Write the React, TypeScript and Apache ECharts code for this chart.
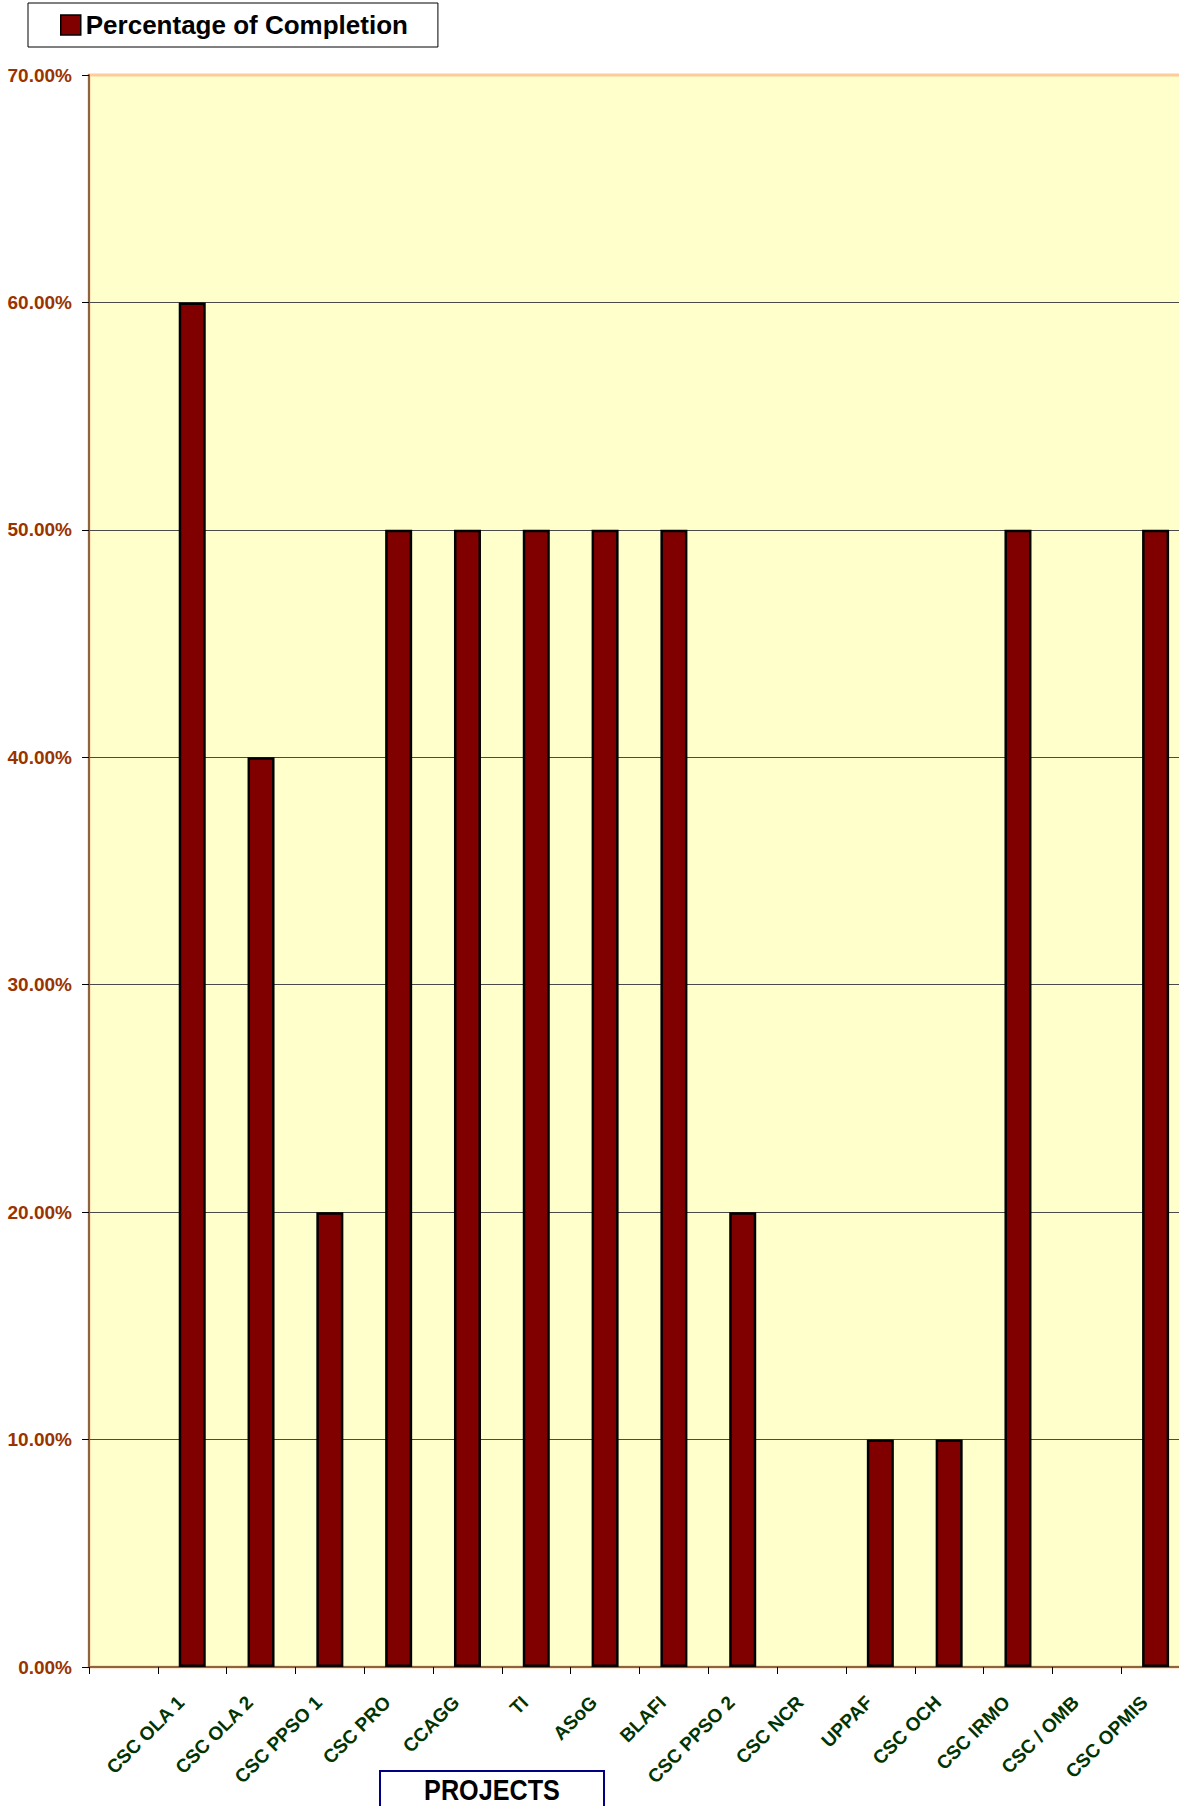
import React, { useEffect, useRef } from "react";
import * as echarts from "echarts";

const categories: string[] = [
  "",
  "CSC OLA 1",
  "CSC OLA 2",
  "CSC PPSO 1",
  "CSC PRO",
  "CCAGG",
  "TI",
  "ASoG",
  "BLAFI",
  "CSC PPSO 2",
  "CSC NCR",
  "UPPAF",
  "CSC OCH",
  "CSC IRMO",
  "CSC / OMB",
  "CSC OPMIS",
];

const completion: (number | null)[] = [
  null, 60, 40, 20, 50, 50, 50, 50, 50, 20, 0, 10, 10, 50, 0, 50,
];

const yTicks = { min: 0, max: 70, interval: 10 };

const seriesName = "Percentage of Completion";
const axisTitle = "PROJECTS";

const FONT = "'Liberation Sans Narrow', 'Arial Narrow', 'Liberation Sans', Arial, sans-serif";

export default function App() {
  const ref = useRef<HTMLDivElement>(null);

  useEffect(() => {
    if (!ref.current) return;
    const chart = echarts.init(ref.current, undefined, { renderer: "svg" });
    const tickCount = (yTicks.max - yTicks.min) / yTicks.interval + 1;
    const splitColors = Array.from({ length: tickCount }, (_, i) =>
      i === tickCount - 1 ? "#FFCC99" : "#4a4a4a"
    );
    chart.setOption({
      animation: false,
      backgroundColor: "#ffffff",
      textStyle: { fontFamily: FONT },
      legend: {
        show: true,
        left: 28,
        top: 3,
        orient: "horizontal",
        backgroundColor: "#ffffff",
        borderColor: "#000000",
        borderWidth: 1,
        padding: [9, 30, 9, 32],
        itemWidth: 20,
        itemHeight: 20,
        icon: "rect",
        itemStyle: { borderColor: "#000", borderWidth: 1.5 },
        textStyle: {
          fontFamily: FONT,
          fontWeight: "bold",
          fontSize: 26,
          lineHeight: 24,
          color: "#000000",
        },
        data: [seriesName],
      },
      grid: {
        left: 89,
        top: 75,
        width: 1101,
        bottom: 139,
        show: true,
        backgroundColor: "#FFFFCC",
        borderColor: "#FFCC99",
        borderWidth: 3,
        containLabel: false,
        outerBoundsMode: "none",
      },
      xAxis: {
        type: "category",
        data: categories,
        boundaryGap: true,
        axisLine: { show: true, lineStyle: { color: "#8C6440", width: 2 } },
        axisTick: {
          show: true,
          alignWithLabel: false,
          interval: 0,
          length: 7,
          lineStyle: { color: "#000", width: 1 },
        },
        axisLabel: {
          interval: 0,
          rotate: 45,
          margin: 21,
          padding: [0, 16, 0, 0],
          color: "#003300",
          fontFamily: FONT,
          fontWeight: "bold",
          fontSize: 19,
        },
        splitLine: { show: false },
      },
      yAxis: {
        type: "value",
        min: yTicks.min,
        max: yTicks.max,
        interval: yTicks.interval,
        axisLine: { show: true, lineStyle: { color: "#8C6440", width: 2 } },
        axisTick: { show: true, length: 7, lineStyle: { color: "#000", width: 1 } },
        axisLabel: {
          margin: 17,
          color: "#993300",
          fontFamily: FONT,
          fontWeight: "bold",
          fontSize: 19,
          formatter: (v: number) => v.toFixed(2) + "%",
        },
        splitLine: { show: true, lineStyle: { color: splitColors, width: 1 } },
      },
      series: [
        {
          name: seriesName,
          type: "bar",
          barWidth: 27,
          itemStyle: { color: "#800000", borderColor: "#000000", borderWidth: 2.5 },
          data: completion.map((v) =>
            v === null
              ? null
              : { value: v, itemStyle: { borderWidth: v === 0 ? 0 : 2.5 } }
          ),
        },
      ],
      graphic: [
        {
          type: "group",
          left: 379,
          top: 1770,
          children: [
            {
              type: "rect",
              shape: { x: 0, y: 0, width: 224, height: 60 },
              style: { fill: "#ffffff", stroke: "#000080", lineWidth: 2 },
            },
            {
              type: "text",
              x: 112,
              y: 19,
              scaleX: 0.84,
              style: {
                text: axisTitle,
                fontFamily: FONT,
                fontWeight: "bold",
                fontSize: 30,
                fill: "#000000",
                align: "center",
                verticalAlign: "middle",
              },
            },
          ],
        },
      ],
    });
    return () => chart.dispose();
  }, []);

  return (
    <div
      style={{
        position: "fixed",
        left: 0,
        top: 0,
        width: 1179,
        height: 1806,
        overflow: "hidden",
        background: "#fff",
      }}
    >
      <div ref={ref} style={{ width: 1200, height: 1806 }} />
    </div>
  );
}
